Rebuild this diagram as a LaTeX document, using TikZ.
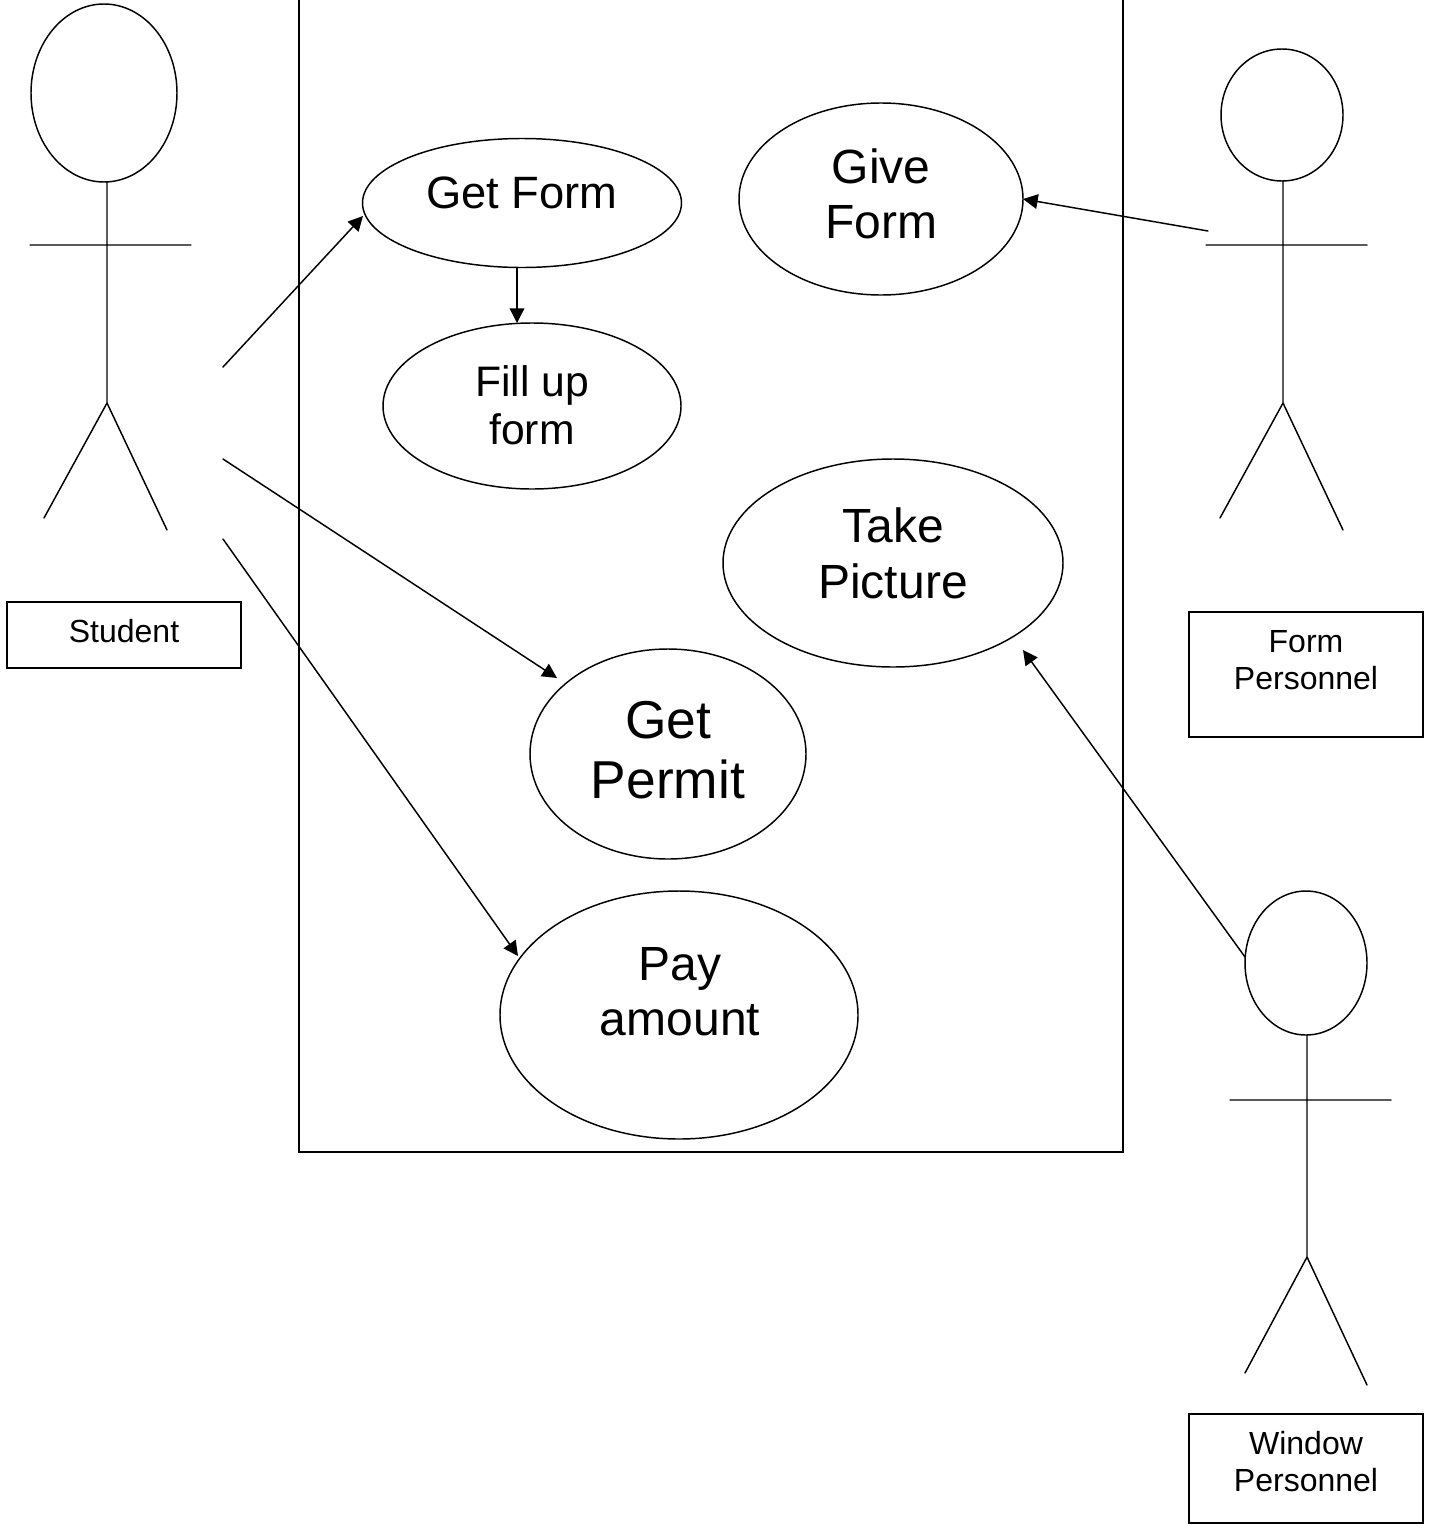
\documentclass[tikz,border=0pt]{standalone}
\usepackage{fontspec}
\setmainfont{Liberation Sans}
\usetikzlibrary{shapes.geometric,arrows.meta}
\newcommand{\fsz}[2]{\fontsize{#1}{#2}\selectfont}
\tikzset{
  line/.style={line width=1.1pt,line cap=round,line join=miter,black},
  ell/.style n args={2}{draw,line width=1.1pt,ellipse,inner sep=0pt,outer sep=0pt,minimum width=#1*0.75pt,minimum height=#2*0.75pt},
  boxn/.style n args={2}{draw,line width=1.1pt,rectangle,inner sep=0pt,outer sep=0pt,minimum width=#1*0.75pt,minimum height=#2*0.75pt},
  txt/.style={inner sep=0pt,outer sep=0pt,align=center},
  arr/.style={line,-{Triangle[length=11pt,width=11pt]}},
}
\begin{document}
\begin{tikzpicture}[x=0.75pt,y=-0.75pt]
\useasboundingbox (0,0) rectangle (1432,1524);
% system boundary
\coordinate (st) at (299,0); \coordinate (sb) at (299,1152);
\coordinate (sc) at (1123,1152); \coordinate (sd) at (1123,0);
\draw[line] (st) -- (sb) -- (sc) -- (sd);
% use cases
\node[ell={319}{129}] (gf) at (522,203) {};
\node[ell={298}{166}] (fu) at (532,406) {};
\node[ell={284}{192}] (gv) at (881,199) {};
\node[ell={340}{208}] (tp) at (893,563) {};
\node[ell={276}{210}] (gp) at (668,754) {};
\node[ell={358}{248}] (pa) at (679,1015) {};
\node[txt,font=\fsz{34}{40}] (gft) at (522,193) {Get Form};
\node[txt,font=\fsz{32}{36}] (fut) at (532,405) {Fill up\\form};
\node[txt,font=\fsz{36}{41.5}] (gvt) at (881,194) {Give\\Form};
\node[txt,font=\fsz{36}{42}] (tpt) at (893,553) {Take\\Picture};
\node[txt,font=\fsz{40}{45.5}] (gpt) at (668,750) {Get\\Permit};
\node[txt,font=\fsz{36}{41}] (pat) at (680,992) {Pay\\amount};
% actors
\node[ell={146}{178}] (h1) at (104,93) {};
\coordinate (n1) at (107,182); \coordinate (p1) at (107,403);
\coordinate (a1) at (30,245); \coordinate (b1) at (191,245);
\coordinate (l1) at (44,518); \coordinate (r1) at (167,530);
\draw[line] (n1) -- (p1) -- (l1) (p1) -- (r1) (a1) -- (b1);
\node[ell={122}{132}] (h2) at (1282,115) {};
\coordinate (n2) at (1283,181); \coordinate (p2) at (1283,403);
\coordinate (a2) at (1206,245); \coordinate (b2) at (1367,245);
\coordinate (l2) at (1220,518); \coordinate (r2) at (1343,530);
\draw[line] (n2) -- (p2) -- (l2) (p2) -- (r2) (a2) -- (b2);
\node[ell={122}{144}] (h3) at (1306,963) {};
\coordinate (n3) at (1307,1035); \coordinate (p3) at (1307,1257);
\coordinate (a3) at (1230,1100); \coordinate (b3) at (1391,1100);
\coordinate (l3) at (1245,1373); \coordinate (r3) at (1367,1385);
\draw[line] (n3) -- (p3) -- (l3) (p3) -- (r3) (a3) -- (b3);
% actor boxes
\node[boxn={234}{66}] (bs) at (124,635) {};
\node[boxn={234}{125}] (bf) at (1306,674.5) {};
\node[boxn={234}{109}] (bw) at (1306,1468.5) {};
\node[txt,font=\fsz{24}{28}] (bst) at (124,631) {Student};
\node[txt,font=\fsz{24}{28}] (bft) at (1306,660) {Form\\Personnel};
\node[txt,font=\fsz{24}{28}] (bwt) at (1306,1461.5) {Window\\Personnel};
% connectors
\coordinate (s1) at (223,367); \coordinate (s2) at (223,459); \coordinate (s3) at (223,539);
\coordinate (f1) at (1208,231); \coordinate (w1) at (1245,957);
\coordinate (e1) at (363,216); \coordinate (e2) at (557,678); \coordinate (e3) at (518,956);
\coordinate (e4) at (1023,650); \coordinate (e5) at (517,268); \coordinate (e6) at (517,323);
\draw[arr] (s1) -- (e1);
\draw[arr] (s2) -- (e2);
\draw[arr] (s3) -- (e3);
\draw[arr] (e5) -- (e6);
\draw[arr] (f1) -- (gv.east);
\draw[arr] (w1) -- (e4);
\end{tikzpicture}
\end{document}
